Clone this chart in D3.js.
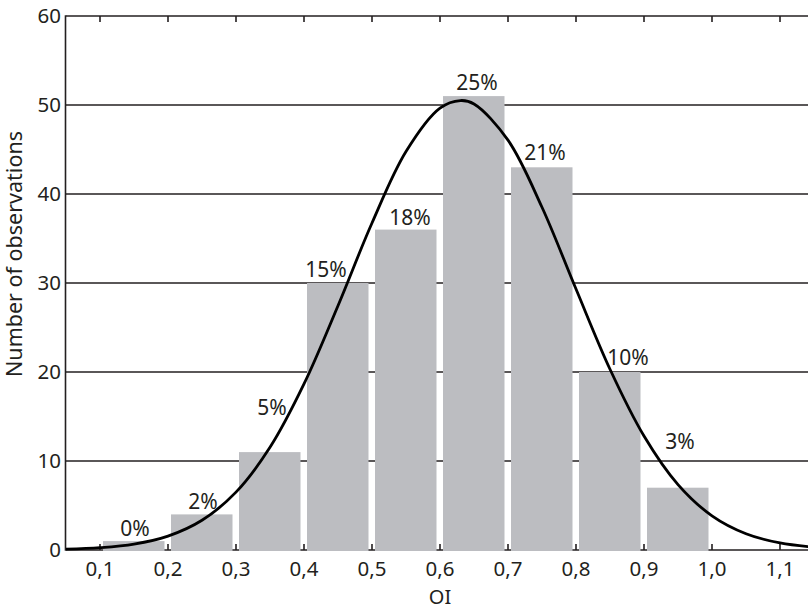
<!DOCTYPE html>
<html>
<head>
<meta charset="utf-8">
<script src="https://cdn.jsdelivr.net/npm/d3@7/dist/d3.min.js"></script>
<style>
  html, body { margin: 0; padding: 0; background: #fff; }
  svg { display: block; }
  text { font-family: "Noto Sans", "Open Sans", sans-serif; fill: #231f20; }
</style>
</head>
<body>
<svg id="chart" width="808" height="611"></svg>
<script>
// ---- data ----
const binStarts = [0.1, 0.2, 0.3, 0.4, 0.5, 0.6, 0.7, 0.8, 0.9];
const counts    = [1, 4, 11, 30, 36, 51, 43, 20, 7];
const percents  = ["0%", "2%", "5%", "15%", "18%", "25%", "21%", "10%", "3%"];
const binWidth  = 0.1;

// fitted curve
const curveX = [0.05, 0.10, 0.15, 0.20, 0.25, 0.30, 0.35, 0.40, 0.45, 0.50, 0.55, 0.60,
                0.63, 0.65, 0.70, 0.75, 0.80, 0.85, 0.90, 0.95, 1.00, 1.05, 1.10, 1.15];
const curveY = [0.09, 0.26, 0.66, 1.56, 3.34, 6.50, 11.54, 18.66, 27.45, 36.74, 44.77, 49.65,
                50.5, 50.12, 46.05, 38.51, 29.32, 20.31, 12.81, 7.35, 3.84, 1.83, 0.79, 0.31];

const xTicks = [0.1, 0.2, 0.3, 0.4, 0.5, 0.6, 0.7, 0.8, 0.9, 1.0, 1.1];
const yTicks = [0, 10, 20, 30, 40, 50, 60];
const yGrid  = [10, 20, 30, 40, 50, 60];

// ---- layout ----
const labelNudge = [[1, 0], [1, 0], [2, -32], [-12, -1], [4, 0], [3, -1], [3, -2], [18, -2], [2, -34]];

const svg = d3.select("#chart");
const x = d3.scaleLinear().domain([0.05, 1.15]).range([66, 814]);
const y = d3.scaleLinear().domain([0, 60]).range([550, 16]);
const fmt = v => d3.format(".1f")(v).replace(".", ",");
const ink = "#231f20";

// grid lines
svg.append("g").selectAll("line").data(yGrid).join("line")
  .attr("x1", x(0.05)).attr("x2", 808)
  .attr("y1", d => y(d)).attr("y2", d => y(d))
  .attr("stroke", ink).attr("stroke-width", 1.6);

// bottom axis line
svg.append("line").attr("x1", x(0.05)).attr("x2", 808)
  .attr("y1", y(0)).attr("y2", y(0)).attr("stroke", ink).attr("stroke-width", 1.6);

// ticks on bottom (pointing up) and top (pointing down)
svg.append("g").selectAll("line").data(xTicks).join("line")
  .attr("x1", d => x(d)).attr("x2", d => x(d))
  .attr("y1", y(0)).attr("y2", y(0) - 6)
  .attr("stroke", ink).attr("stroke-width", 1.6);
svg.append("g").selectAll("line").data(xTicks).join("line")
  .attr("x1", d => x(d)).attr("x2", d => x(d))
  .attr("y1", y(60)).attr("y2", y(60) + 6)
  .attr("stroke", ink).attr("stroke-width", 1.6);

// bars
svg.append("g").selectAll("rect").data(binStarts).join("rect")
  .attr("x", d => x(d) + 3)
  .attr("width", d => x(d + binWidth) - x(d) - 6.5)
  .attr("y", (d, i) => y(counts[i]))
  .attr("height", (d, i) => y(0) - y(counts[i]) + 1)
  .attr("fill", "#bcbdc1");

// left axis line
svg.append("line").attr("x1", x(0.05) - 0.5).attr("x2", x(0.05) - 0.5)
  .attr("y1", y(60) - 0.8).attr("y2", y(0) + 0.8).attr("stroke", ink).attr("stroke-width", 1.6);

// curve
const pts = curveX.map((v, i) => [v, curveY[i]]);
svg.append("path").datum(pts)
  .attr("d", d3.line().x(d => x(d[0])).y(d => y(d[1])).curve(d3.curveCatmullRom))
  .attr("fill", "none").attr("stroke", "#000").attr("stroke-width", 2.8);

// percent labels
svg.append("g").selectAll("text").data(binStarts).join("text")
  .attr("x", (d, i) => x(d + binWidth / 2) + labelNudge[i][0])
  .attr("y", (d, i) => y(counts[i]) - 5 + labelNudge[i][1])
  .attr("text-anchor", "middle").attr("font-size", 21)
  .text((d, i) => percents[i]);

// y tick labels
svg.append("g").selectAll("text").data(yTicks).join("text")
  .attr("x", 61).attr("y", d => y(d)).attr("dy", "0.36em")
  .attr("text-anchor", "end").attr("font-size", 20.5)
  .text(d => d);

// x tick labels
svg.append("g").selectAll("text").data(xTicks).join("text")
  .attr("x", d => x(d)).attr("y", 576)
  .attr("text-anchor", "middle").attr("font-size", 20.5)
  .text(d => fmt(d));

// axis titles
svg.append("text").attr("x", x(0.6)).attr("y", 604)
  .attr("text-anchor", "middle").attr("font-size", 20).text("OI");
svg.append("text").attr("transform", "translate(22, 254) rotate(-90)")
  .attr("text-anchor", "middle").attr("font-size", 21.5).text("Number of observations");
</script>
</body>
</html>
